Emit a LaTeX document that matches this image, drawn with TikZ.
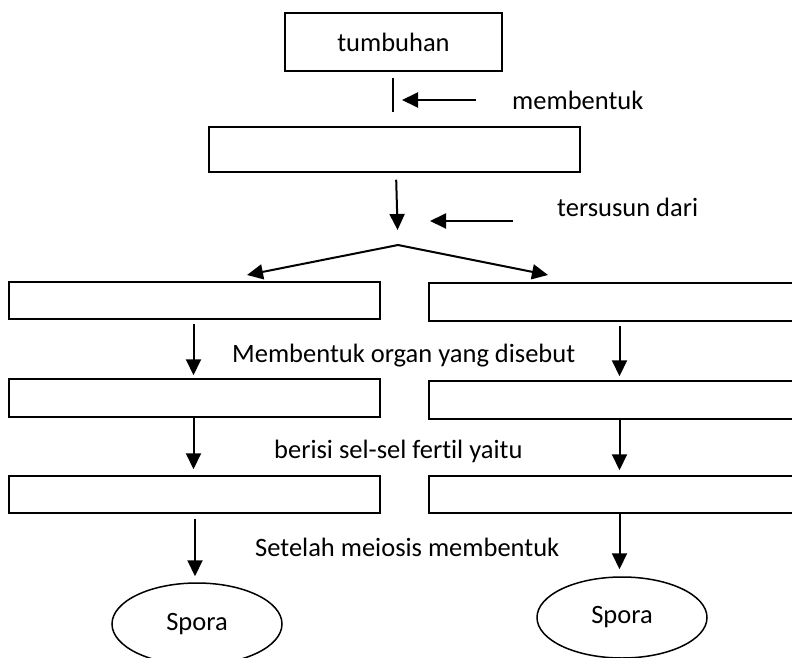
\documentclass[tikz,border=0pt]{standalone}
\usepackage{fontspec}
\setmainfont{Carlito}[Ligatures=NoCommon]
\usepackage[]{tikz}
\usetikzlibrary{positioning}
\usetikzlibrary{arrows.meta}
\usetikzlibrary{shapes.geometric}

\begin{document}
\begin{tikzpicture}[x=1pt,y=-1pt,
            font=\fontsize{26.5}{30}\selectfont,
            kotak/.style={draw,line width=1.5pt,inner sep=0pt},
            oval/.style={draw,ellipse,line width=1.5pt,inner sep=0pt},
            label/.style={anchor=west,inner sep=0pt},
            panah/.style={line width=2pt,-{Triangle[length=16pt,width=15pt]}}]
            \useasboundingbox (0,0) rectangle (792,658);
            \clip (0,0) rectangle (792,658);
            \node[kotak,minimum width=217pt,minimum height=58pt] (tumbuhan) at (393.5,42) {tumbuhan};
            \node[kotak,minimum width=371pt,minimum height=45pt] (hasil) at (394.5,149.5) {};
            % kolom kiri
            \node[kotak,minimum width=371pt,minimum height=37pt] (kiriA) at (194.5,300.5) {};
            \node[kotak,minimum width=371pt,minimum height=38pt] (kiriB) at (194.5,398) {};
            \node[kotak,minimum width=371pt,minimum height=37pt] (kiriC) at (194.5,494.5) {};
            \node[oval,minimum width=170pt,minimum height=82pt] (sporaKiri) at (197,624) {Spora};
            % kolom kanan (terpotong di tepi kanan)
            \node[kotak,minimum width=371pt,minimum height=38pt] (kananA) at (614.5,302) {};
            \node[kotak,minimum width=371pt,minimum height=38pt] (kananB) at (614.5,400) {};
            \node[kotak,minimum width=371pt,minimum height=37pt] (kananC) at (614.5,494.5) {};
            \node[oval,minimum width=170pt,minimum height=81pt] (sporaKanan) at (622,617.5) {Spora};
            % teks
            \node[label] (tMembentuk) at (512,100) {membentuk};
            \node[label] (tTersusun) at (557,207) {tersusun dari};
            \node[label] (tOrgan) at (232,356) {Membentuk organ yang disebut};
            \node[label] (tBerisi) at (274,451) {berisi sel-sel fertil yaitu};
            \node[label] (tMeiosis) at (255,547) {Setelah meiosis membentuk};
            \coordinate (split) at (398,245);
            \coordinate (ujungKiri) at (247,275);
            \coordinate (ujungKanan) at (548,275);
            \coordinate (kolomKiri) at (193.5,0);
            \coordinate (kolomSpora) at (195,0);
            \coordinate (kolomKanan) at (619.5,0);
            \coordinate (ekorA) at (476,100);
            \coordinate (kepalaA) at (402,100);
            \coordinate (ekorB) at (513,221);
            \coordinate (kepalaB) at (430,221);
            \draw[line width=1.5pt,shorten <=6pt,shorten >=14pt] ([xshift=-0.5pt]tumbuhan.south) -- ([xshift=-1.5pt]hasil.north);
            \draw[panah] (ekorA) -- (kepalaA);
            \draw[panah,shorten <=7pt,shorten >=15pt] ([xshift=1.5pt]hasil.south) -- (split);
            \draw[panah] (ekorB) -- (kepalaB);
            \draw[panah] (split) -- (ujungKiri);
            \draw[panah] (split) -- (ujungKanan);
            \draw[panah,shorten <=4pt,shorten >=3pt] (kiriA.south -| kolomKiri) -- (kiriB.north -| kolomKiri);
            \draw[panah,shorten >=6pt] (kiriB.south -| kolomKiri) -- (kiriC.north -| kolomKiri);
            \draw[panah,shorten <=5pt,shorten >=6pt] (kiriC.south -| kolomSpora) -- (sporaKiri.north -| kolomSpora);
            \draw[panah,shorten <=4pt,shorten >=4pt] (kananA.south -| kolomKanan) -- (kananB.north -| kolomKanan);
            \draw[panah,shorten >=5pt] (kananB.south -| kolomKanan) -- (kananC.north -| kolomKanan);
            \draw[panah,shorten >=7pt] (kananC.south -| kolomKanan) -- (sporaKanan.north -| kolomKanan);
        \end{tikzpicture}
\end{document}
